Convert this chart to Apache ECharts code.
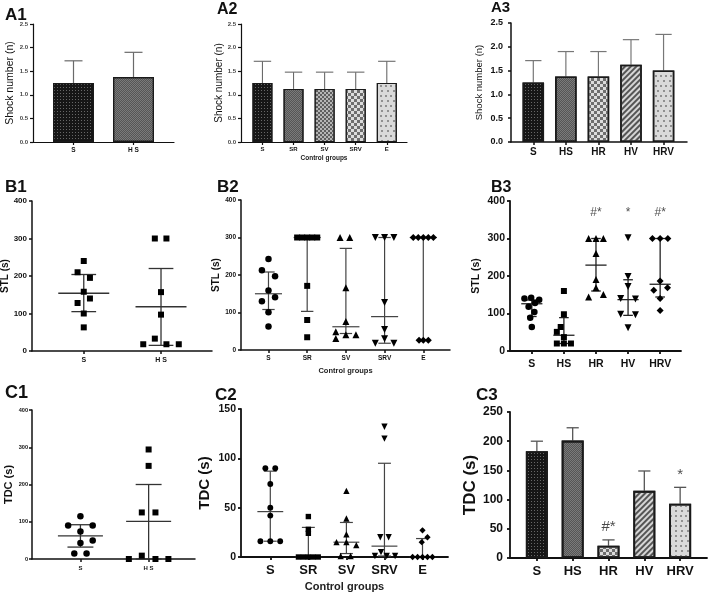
<!DOCTYPE html>
<html>
<head>
<meta charset="utf-8">
<script src="https://cdn.jsdelivr.net/npm/echarts@6/dist/echarts.min.js"></script>
<style>
  html, body { margin: 0; padding: 0; background: #fff; }
  #main { width: 708px; height: 594px; }
</style>
</head>
<body>
<div id="main"></div>
<script>
// ---------- data ----------
// A: shock number, mean + SD
const a1Groups = ['S', 'H S'];
const a1Mean = [1.25, 1.375];
const a1Sd = [0.47, 0.525];

const a2Groups = ['S', 'SR', 'SV', 'SRV', 'E'];
const a2Mean = [1.25, 1.125, 1.125, 1.125, 1.25];
const a2Sd = [0.46, 0.355, 0.355, 0.355, 0.46];

const a3Groups = ['S', 'HS', 'HR', 'HV', 'HRV'];
const a3Mean = [1.25, 1.375, 1.375, 1.625, 1.5];
const a3Sd = [0.46, 0.525, 0.525, 0.525, 0.76];

// B: STL (s), individual animals, jitter = horizontal spread in group units
const b1Groups = ['S', 'H S'];
const b1S = [240, 210, 195, 158, 140, 128, 100, 63];
const b1SJit = [0, -0.08, 0.08, 0, 0.08, -0.08, 0, 0];
const b1HS = [300, 300, 157, 97, 33, 18, 18, 18];
const b1HSJit = [-0.08, 0.07, 0, 0, -0.08, -0.23, 0.07, 0.23];
const b1Mean = [154, 118];
const b1Low = [105, 15];
const b1High = [204, 220];

const b2Groups = ['S', 'SR', 'SV', 'SRV', 'E'];
const b2S = [243, 213, 197, 159, 141, 130, 101, 63];
const b2SJit = [0, -0.17, 0.17, 0, 0.17, -0.17, 0, 0];
const b2SR = [300, 300, 300, 300, 300, 171, 80, 34];
const b2SRJit = [-0.26, -0.13, 0, 0.13, 0.26, 0, 0, 0];
const b2SV = [300, 300, 166, 76, 49, 41, 41, 31];
const b2SVJit = [-0.15, 0.1, 0, 0, -0.26, 0, 0.26, -0.26];
const b2SRV = [300, 300, 300, 127, 55, 30, 18, 18];
const b2SRVJit = [-0.24, 0, 0.24, 0, 0, 0, -0.24, 0.24];
const b2E = [300, 300, 300, 300, 300, 26, 26, 26];
const b2EJit = [-0.26, -0.13, 0, 0.13, 0.26, -0.11, 0, 0.13];
const b2Median = [150, 300, 62, 89, 300];
const b2Low = [108, 103, 44, 18, 26];
const b2High = [208, 300, 271, 300, 300];

const b3Groups = ['S', 'HS', 'HR', 'HV', 'HRV'];
const b3S = [142, 140, 137, 128, 118, 104, 89, 64];
const b3SJit = [-0.02, -0.23, 0.23, 0.1, -0.1, 0.08, -0.05, 0];
const b3HS = [160, 98, 64, 51, 37, 20, 20, 20];
const b3HSJit = [0, 0, -0.1, -0.22, 0, -0.22, 0, 0.22];
const b3HR = [300, 300, 300, 260, 191, 169, 151, 144];
const b3HRJit = [-0.23, 0, 0.23, 0, 0, 0, 0.23, -0.23];
const b3HV = [302, 199, 172, 140, 139, 98, 97, 62];
const b3HVJit = [0, 0, 0, -0.23, 0.23, -0.23, 0.23, 0];
const b3HRV = [300, 300, 300, 187, 169, 162, 140, 108];
const b3HRVJit = [-0.24, 0, 0.24, 0, 0.23, -0.2, 0, 0];
const b3Median = [126, 42, 229, 137, 178];
const b3Low = [92, 20, 160, 95, 144];
const b3High = [136, 89, 300, 190, 300];
const b3Marks = ['', '', '#*', '*', '#*'];
const b3MarkAt = 368;

// C: TDC (s)
const c1Groups = ['S', 'H S'];
const c1S = [115, 90, 90, 74, 50, 43, 15, 15];
const c1SJit = [0, -0.18, 0.18, 0, 0.18, 0, -0.09, 0.09];
const c1HS = [294, 250, 125, 125, 9, 0, 0, 0];
const c1HSJit = [0, 0, -0.1, 0.1, -0.1, -0.29, 0.1, 0.29];
const c1Mean = [62, 101];
const c1Low = [32, 0];
const c1High = [92, 200];

const c2Groups = ['S', 'SR', 'SV', 'SRV', 'E'];
const c2S = [90, 90, 74, 50, 42, 16, 16, 16];
const c2SJit = [-0.13, 0.13, 0, 0, 0, -0.26, 0, 0.26];
const c2SR = [41, 28, 24, 0, 0, 0, 0, 0];
const c2SRJit = [0, 0, 0, -0.26, -0.13, 0, 0.13, 0.26];
const c2SV = [67, 39, 23, 15, 15, 12, 1, 1];
const c2SVJit = [0, 0, 0, -0.26, 0, 0.26, -0.15, 0.11];
const c2SRV = [132, 120, 20, 20, 5, 1, 1, 1];
const c2SRVJit = [0, 0, -0.11, 0.11, -0.09, -0.25, 0.06, 0.28];
const c2E = [27, 20, 15, 0, 0, 0, 0, 0];
const c2EJit = [0, 0.13, -0.02, -0.26, -0.13, 0, 0.13, 0.26];
const c2Median = [46, 0, 15, 11, 0];
const c2Low = [16, 0, 3.5, 1, 0];
const c2High = [87, 30, 35, 95, 18.7];

const c3Groups = ['S', 'HS', 'HR', 'HV', 'HRV'];
const c3Mean = [183, 201, 21, 115, 93];
const c3Sd = [17, 22, 10, 34, 28];
const c3Marks = ['', '', '#*', '', '*'];
const c3MarkAt = [0, 0, 54, 0, 142];

// ---------- styles ----------
const FONT = 'Liberation Sans, Arial, sans-serif';
const fills = {
  dark: { color: '#161616', decal: { symbol: 'rect', symbolSize: 1, color: 'rgba(255,255,255,0.35)', dashArrayX: [1, 2], dashArrayY: [1, 2] } },
  grey: { color: '#7a7a7a', decal: { symbol: 'rect', symbolSize: 1, color: 'rgba(0,0,0,0.3)', dashArrayX: [[1, 1], [0, 1, 1, 0]], dashArrayY: [1, 0] } },
  check: { color: '#dcdcdc', decal: { symbol: 'rect', symbolSize: 1, color: '#6e6e6e', dashArrayX: [[3, 3], [0, 3, 3, 0]], dashArrayY: [3, 0] } },
  checkDark: { color: '#b5b5b5', decal: { symbol: 'rect', symbolSize: 1, color: '#5e5e5e', dashArrayX: [[2, 2], [0, 2, 2, 0]], dashArrayY: [2, 0] } },
  diag: { color: '#d6d6d6', decal: { symbol: 'rect', symbolSize: 1, color: '#555', dashArrayX: [1, 0], dashArrayY: [1.5, 2], rotation: -Math.PI / 4 } },
  spots: { color: '#dadada', decal: { symbol: 'circle', symbolSize: 1, color: '#777', dashArrayX: [[2, 3], [0, 2.5, 2, 0.5]], dashArrayY: [2, 2.5] } }
};

const grids = [];
const xAxes = [];
const yAxes = [];
const series = [];

function addPanel(o) {
  const idx = grids.length;
  grids.push({ left: o.left, top: o.top, width: o.width, height: o.height, outerBoundsMode: 'none' });
  const ticks = o.groups.map((g, i) => i);
  xAxes.push({
    type: 'value', gridIndex: idx, min: o.xMin, max: o.xMax,
    axisLine: { show: true, onZero: false, lineStyle: { color: '#111', width: o.axisW } },
    axisTick: { show: true, customValues: ticks, length: 3, lineStyle: { color: '#111', width: o.axisW } },
    axisLabel: {
      customValues: ticks, formatter: v => o.groups[Math.round(v)],
      fontFamily: FONT, fontSize: o.xFont, fontWeight: 'bold', color: o.xColor || '#111', margin: o.xMargin
    },
    splitLine: { show: false },
    name: o.xName || '', nameLocation: 'middle', nameGap: o.xNameGap || 0,
    nameTextStyle: { fontFamily: FONT, fontSize: o.xNameFont || 8, fontWeight: 'bold', color: '#222' }
  });
  yAxes.push({
    type: 'value', gridIndex: idx, min: 0, max: o.yMax, interval: o.yStep,
    axisLine: { show: true, onZero: false, lineStyle: { color: '#111', width: o.axisW } },
    axisTick: { show: true, length: 3, lineStyle: { color: '#111', width: o.axisW } },
    axisLabel: {
      formatter: o.yDec ? (v => v.toFixed(o.yDec)) : (v => String(v)),
      fontFamily: FONT, fontSize: o.yFont, fontWeight: 'bold', color: o.yColor || '#111', margin: o.yMargin
    },
    splitLine: { show: false },
    name: o.yName, nameLocation: 'middle', nameGap: o.yNameGap,
    nameTextStyle: { fontFamily: FONT, fontSize: o.yNameFont, fontWeight: o.yNameWeight || 'bold', color: '#111' }
  });
  return idx;
}

function addBars(idx, mean, sd, fillNames, barW, cap, errColor, errW, borderW) {
  series.push({
    type: 'bar', xAxisIndex: idx, yAxisIndex: idx, barWidth: barW, z: 3, silent: true,
    data: mean.map((m, i) => ({
      value: [i, m],
      itemStyle: Object.assign({ borderColor: '#1a1a1a', borderWidth: borderW }, fills[fillNames[i]])
    }))
  });
  series.push({
    type: 'custom', xAxisIndex: idx, yAxisIndex: idx, z: 2, silent: true, clip: false,
    data: mean.map((m, i) => [i, m, m + sd[i]]),
    renderItem: function (params, api) {
      const x = api.value(0);
      const b = api.coord([x, api.value(1)]);
      const t = api.coord([x, api.value(2)]);
      const half = api.size([cap, 0])[0];
      const st = { stroke: errColor, lineWidth: errW };
      return {
        type: 'group', children: [
          { type: 'line', shape: { x1: b[0], y1: b[1], x2: t[0], y2: t[1] }, style: st },
          { type: 'line', shape: { x1: t[0] - half, y1: t[1], x2: t[0] + half, y2: t[1] }, style: st }
        ]
      };
    }
  });
}

const shapes = {
  rect: { symbol: 'rect', size: 6, rot: 0 },
  circle: { symbol: 'circle', size: 6.5, rot: 0 },
  up: { symbol: 'triangle', size: 7, rot: 0 },
  down: { symbol: 'triangle', size: 7, rot: 180 },
  diamond: { symbol: 'diamond', size: 7, rot: 0 }
};

function addDots(idx, i, vals, jit, shape, scale) {
  const s = shapes[shape];
  series.push({
    type: 'scatter', xAxisIndex: idx, yAxisIndex: idx, z: 4, silent: true, clip: false,
    symbol: s.symbol, symbolSize: s.size * (scale || 1), symbolRotate: s.rot,
    itemStyle: { color: '#000', opacity: 1 },
    data: vals.map((v, k) => [i + jit[k], v])
  });
}

function addSummary(idx, mid, low, high, color, lw, wide, cap) {
  series.push({
    type: 'custom', xAxisIndex: idx, yAxisIndex: idx, z: 2, silent: true, clip: false,
    data: mid.map((m, i) => [i, m, low[i], high[i]]),
    renderItem: function (params, api) {
      const x = api.value(0);
      const c = api.coord([x, api.value(1)]);
      const lo = api.coord([x, api.value(2)]);
      const hi = api.coord([x, api.value(3)]);
      const w = api.size([wide, 0])[0];
      const cw = api.size([cap, 0])[0];
      const st = { stroke: color, lineWidth: lw };
      return {
        type: 'group', children: [
          { type: 'line', shape: { x1: c[0], y1: lo[1], x2: c[0], y2: hi[1] }, style: st },
          { type: 'line', shape: { x1: c[0] - cw, y1: lo[1], x2: c[0] + cw, y2: lo[1] }, style: st },
          { type: 'line', shape: { x1: c[0] - cw, y1: hi[1], x2: c[0] + cw, y2: hi[1] }, style: st },
          { type: 'line', shape: { x1: c[0] - w, y1: c[1], x2: c[0] + w, y2: c[1] }, style: st }
        ]
      };
    }
  });
}

function addMarks(idx, marks, at, size) {
  series.push({
    type: 'scatter', xAxisIndex: idx, yAxisIndex: idx, z: 5, silent: true, clip: false,
    symbolSize: 1, itemStyle: { color: 'rgba(0,0,0,0)' },
    label: { show: true, position: 'inside', formatter: p => p.data[2], fontFamily: FONT, fontSize: size, color: '#1a1a1a' },
    data: marks.map((m, i) => [i, Array.isArray(at) ? at[i] : at, m]).filter(d => d[2])
  });
}

// ---------- A row ----------
let p = addPanel({
  left: 33, top: 24, width: 141, height: 118, xMin: -0.675, xMax: 1.675, groups: a1Groups,
  yMax: 2.5, yStep: 0.5, yDec: 1, axisW: 1.2,
  xFont: 6.5, xMargin: 5, yFont: 6, yColor: '#444', yMargin: 5,
  yName: 'Shock number (n)', yNameGap: 11, yNameFont: 10.5, yNameWeight: 'normal'
});
addBars(p, a1Mean, a1Sd, ['dark', 'grey'], 41, 0.15, '#6a6a6a', 1.2, 1.2);

p = addPanel({
  left: 241, top: 24, width: 166, height: 118, xMin: -0.69, xMax: 4.65, groups: a2Groups,
  yMax: 2.5, yStep: 0.5, yDec: 1, axisW: 1.2,
  xFont: 6, xMargin: 4, yFont: 6, yColor: '#444', yMargin: 5,
  yName: 'Shock number (n)', yNameGap: 12, yNameFont: 10, yNameWeight: 'normal',
  xName: 'Control groups', xNameGap: 13, xNameFont: 6.5
});
addBars(p, a2Mean, a2Sd, ['dark', 'grey', 'checkDark', 'check', 'spots'], 20, 0.28, '#6a6a6a', 1.1, 1.1);

p = addPanel({
  left: 511, top: 23, width: 176, height: 119, xMin: -0.685, xMax: 4.72, groups: a3Groups,
  yMax: 2.5, yStep: 0.5, yDec: 1, axisW: 1.5,
  xFont: 10, xMargin: 5, yFont: 9, yMargin: 8,
  yName: 'Shock number (n)', yNameGap: 27, yNameFont: 9.5, yNameWeight: 'normal'
});
addBars(p, a3Mean, a3Sd, ['dark', 'grey', 'check', 'diag', 'spots'], 21.5, 0.25, '#777', 1.2, 1.5);

// ---------- B row ----------
p = addPanel({
  left: 32, top: 201, width: 180, height: 150, xMin: -0.67, xMax: 1.66, groups: b1Groups,
  yMax: 400, yStep: 100, axisW: 1.5,
  xFont: 7, xMargin: 6, yFont: 8, yMargin: 5,
  yName: 'STL (s)', yNameGap: 21, yNameFont: 10
});
addSummary(p, b1Mean, b1Low, b1High, '#333', 1.3, 0.33, 0.16);
addDots(p, 0, b1S, b1SJit, 'rect');
addDots(p, 1, b1HS, b1HSJit, 'rect');

p = addPanel({
  left: 241, top: 200, width: 209, height: 150, xMin: -0.71, xMax: 4.69, groups: b2Groups,
  yMax: 400, yStep: 100, axisW: 1.5,
  xFont: 6.5, xMargin: 5, yFont: 6.5, yMargin: 5,
  yName: 'STL (s)', yNameGap: 18, yNameFont: 10,
  xName: 'Control groups', xNameGap: 17, xNameFont: 7.5
});
addSummary(p, b2Median, b2Low, b2High, '#444', 1.2, 0.35, 0.16);
addDots(p, 0, b2S, b2SJit, 'circle');
addDots(p, 1, b2SR, b2SRJit, 'rect');
addDots(p, 2, b2SV, b2SVJit, 'up');
addDots(p, 3, b2SRV, b2SRVJit, 'down');
addDots(p, 4, b2E, b2EJit, 'diamond');

p = addPanel({
  left: 510, top: 201, width: 171, height: 150, xMin: -0.68, xMax: 4.65, groups: b3Groups,
  yMax: 400, yStep: 100, axisW: 1.8,
  xFont: 10.5, xMargin: 8, yFont: 10.5, yMargin: 5,
  yName: 'STL (s)', yNameGap: 28, yNameFont: 10.5
});
addSummary(p, b3Median, b3Low, b3High, '#222', 1.3, 0.33, 0.15);
addDots(p, 0, b3S, b3SJit, 'circle');
addDots(p, 1, b3HS, b3HSJit, 'rect');
addDots(p, 2, b3HR, b3HRJit, 'up');
addDots(p, 3, b3HV, b3HVJit, 'down');
addDots(p, 4, b3HRV, b3HRVJit, 'diamond');
addMarks(p, b3Marks, b3MarkAt, 12);

// ---------- C row ----------
p = addPanel({
  left: 32, top: 410, width: 163, height: 149, xMin: -0.71, xMax: 1.68, groups: c1Groups,
  yMax: 400, yStep: 100, axisW: 1.5,
  xFont: 6, xMargin: 6, yFont: 5.6, yMargin: 4,
  yName: 'TDC (s)', yNameGap: 16, yNameFont: 11
});
addSummary(p, c1Mean, c1Low, c1High, '#333', 1.3, 0.33, 0.19);
addDots(p, 0, c1S, c1SJit, 'circle');
addDots(p, 1, c1HS, c1HSJit, 'rect');

p = addPanel({
  left: 241, top: 409, width: 207, height: 148, xMin: -0.77, xMax: 4.67, groups: c2Groups,
  yMax: 150, yStep: 50, axisW: 1.8,
  xFont: 13, xMargin: 7, yFont: 10.5, yMargin: 5,
  yName: 'TDC (s)', yNameGap: 29, yNameFont: 15,
  xName: 'Control groups', xNameGap: 24, xNameFont: 11
});
addSummary(p, c2Median, c2Low, c2High, '#444', 1.2, 0.34, 0.17);
addDots(p, 0, c2S, c2SJit, 'circle', 0.9);
addDots(p, 1, c2SR, c2SRJit, 'rect', 0.9);
addDots(p, 2, c2SV, c2SVJit, 'up', 0.9);
addDots(p, 3, c2SRV, c2SRVJit, 'down', 0.9);
addDots(p, 4, c2E, c2EJit, 'diamond', 0.9);

p = addPanel({
  left: 510, top: 412, width: 197, height: 146, xMin: -0.75, xMax: 4.75, groups: c3Groups,
  yMax: 250, yStep: 50, axisW: 1.8,
  xFont: 13, xMargin: 7, yFont: 12, yMargin: 7,
  yName: 'TDC (s)', yNameGap: 29, yNameFont: 17
});
addBars(p, c3Mean, c3Sd, ['dark', 'grey', 'check', 'diag', 'spots'], 22, 0.17, '#555', 1.3, 1.8);
addMarks(p, c3Marks, c3MarkAt, 15);

// ---------- panel letters ----------
const letters = [
  ['A1', 5, 7, 17], ['A2', 217, 2, 16], ['A3', 491, 0, 15],
  ['B1', 5, 179, 17], ['B2', 217, 179, 17], ['B3', 491, 180, 16],
  ['C1', 5, 384, 18], ['C2', 215, 387, 17], ['C3', 476, 387, 17]
];

const chart = echarts.init(document.getElementById('main'), null, { renderer: 'canvas' });
chart.setOption({
  animation: false,
  backgroundColor: '#fff',
  textStyle: { fontFamily: FONT },
  grid: grids,
  xAxis: xAxes,
  yAxis: yAxes,
  series: series,
  graphic: letters.map(l => ({
    type: 'text', left: l[1], top: l[2],
    style: { text: l[0], font: 'bold ' + l[3] + 'px ' + FONT, fill: '#111' }
  }))
});
</script>
</body>
</html>
